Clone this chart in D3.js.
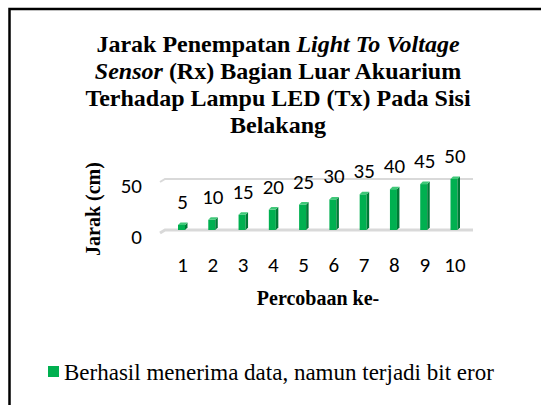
<!DOCTYPE html>
<html>
<head>
<meta charset="utf-8">
<script src="https://cdn.jsdelivr.net/npm/d3@7/dist/d3.min.js"></script>
<style>
  body { margin: 0; background: #fff; }
  svg { display: block; }
  .serif { font-family: 'Liberation Serif', 'Times New Roman', Times, serif; }
  .num { font-family: Carlito, Calibri, Lato, sans-serif; }
</style>
</head>
<body>
<svg id="chart" width="541" height="405"></svg>
<script>
// data
const categories = ['1', '2', '3', '4', '5', '6', '7', '8', '9', '10'];
const jarak = [5, 10, 15, 20, 25, 30, 35, 40, 45, 50];
const yTicks = [0, 50];
const titleLines = [
  [{ t: 'Jarak Penempatan ', i: false }, { t: 'Light To Voltage', i: true }],
  [{ t: 'Sensor', i: true }, { t: ' (Rx) Bagian Luar Akuarium', i: false }],
  [{ t: 'Terhadap Lampu LED (Tx) Pada Sisi', i: false }],
  [{ t: 'Belakang', i: false }]
];
const seriesName = 'Berhasil menerima data, namun terjadi bit eror';

const svg = d3.select('#chart');

// frame (only top and left edge visible)
svg.append('path')
  .attr('d', 'M9.5,541 V9 H541')
  .attr('fill', 'none')
  .attr('stroke', '#000')
  .attr('stroke-width', 2.5);

// title
const title = svg.append('text')
  .attr('class', 'serif')
  .attr('text-anchor', 'middle')
  .attr('font-weight', 'bold')
  .attr('font-size', 24)
  .attr('fill', '#000');

titleLines.forEach((line, k) => {
  line.forEach((seg, j) => {
    const ts = title.append('tspan')
      .attr('font-style', seg.i ? 'italic' : 'normal')
      .text(seg.t);
    if (j === 0) ts.attr('x', 278).attr('y', 52 + k * 27);
  });
});

// scales
const x = d3.scalePoint()
  .domain(categories)
  .range([182.5, 455]);

const y = d3.scaleLinear()
  .domain([0, 50])
  .range([230, 179]);

const gridX0 = 165, gridX1 = 473;

// gridlines (3d floor / back wall)
const grid = svg.append('g');
grid.selectAll('path')
  .data(yTicks)
  .enter().append('path')
    .attr('d', d => `M${gridX0 - 5},${y(d) + 3} L${gridX0},${y(d)} H${gridX1}`)
    .attr('fill', 'none')
    .attr('stroke', '#d9d9d9')
    .attr('stroke-width', d => d === 0 ? 3 : 2);

// y tick labels
svg.append('g').selectAll('text')
  .data(yTicks)
  .enter().append('text')
    .attr('class', 'num')
    .attr('x', 142)
    .attr('y', d => y(d) + 14)
    .attr('text-anchor', 'end')
    .attr('font-size', 21)
    .attr('fill', '#000')
    .text(d => d);

// bars with a little 3d depth
const bw = 7, dp = 2.5;
const bars = svg.append('g').selectAll('g')
  .data(jarak)
  .enter().append('g');

bars.append('rect')
  .attr('x', (d, i) => x(categories[i]) - 4.5)
  .attr('y', d => y(d))
  .attr('width', bw)
  .attr('height', d => y(0) - y(d))
  .attr('fill', '#00b050');

bars.append('path')
  .attr('d', (d, i) => {
    const r = x(categories[i]) - 4.5 + bw;
    return `M${r},${y(d)} L${r + dp},${y(d) - dp} V${y(0) - dp} L${r},${y(0)} Z`;
  })
  .attr('fill', '#007a36');

bars.append('path')
  .attr('d', (d, i) => {
    const l = x(categories[i]) - 4.5;
    return `M${l},${y(d)} H${l + bw} L${l + bw + dp},${y(d) - dp} H${l + dp} Z`;
  })
  .attr('fill', '#3fc878');

// data labels
bars.append('text')
  .attr('class', 'num')
  .attr('x', (d, i) => x(categories[i]))
  .attr('y', d => y(d) - 16)
  .attr('text-anchor', 'middle')
  .attr('font-size', 21)
  .attr('fill', '#000')
  .text(d => d);

// x tick labels
svg.append('g').selectAll('text')
  .data(categories)
  .enter().append('text')
    .attr('class', 'num')
    .attr('x', d => x(d))
    .attr('y', 272)
    .attr('text-anchor', 'middle')
    .attr('font-size', 21)
    .attr('fill', '#000')
    .text(d => d);

// axis titles
svg.append('text')
  .attr('class', 'serif')
  .attr('x', 318)
  .attr('y', 305)
  .attr('text-anchor', 'middle')
  .attr('font-weight', 'bold')
  .attr('font-size', 20)
  .attr('fill', '#000')
  .text('Percobaan ke-');

svg.append('text')
  .attr('class', 'serif')
  .attr('transform', 'translate(100,209) rotate(-90)')
  .attr('text-anchor', 'middle')
  .attr('font-weight', 'bold')
  .attr('font-size', 20)
  .attr('fill', '#000')
  .text('Jarak (cm)');

// legend
svg.append('rect')
  .attr('x', 48)
  .attr('y', 366)
  .attr('width', 11)
  .attr('height', 11)
  .attr('fill', '#00b050');

svg.append('text')
  .attr('class', 'serif')
  .attr('x', 64)
  .attr('y', 380)
  .attr('font-size', 23)
  .attr('fill', '#000')
  .text(seriesName);
</script>
</body>
</html>
